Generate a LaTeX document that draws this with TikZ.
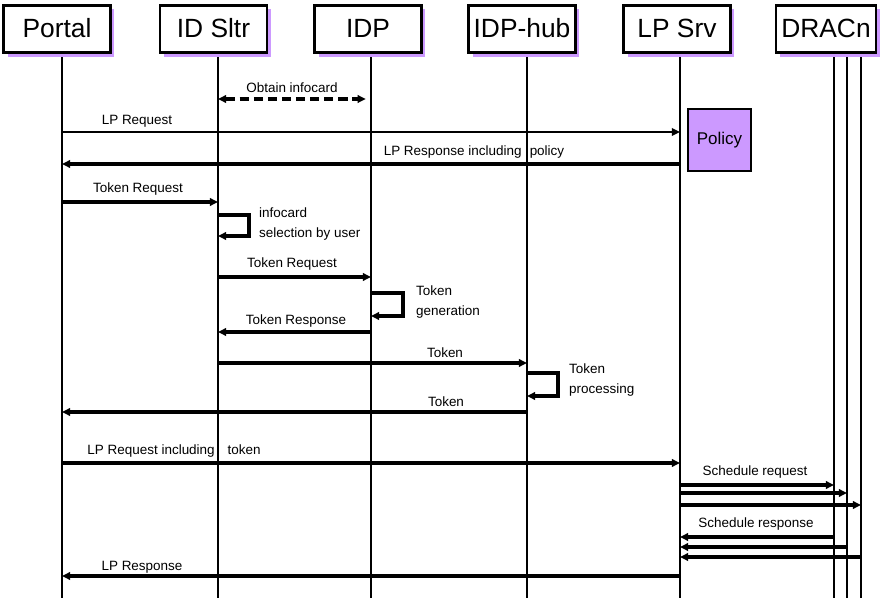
\documentclass[tikz,border=0pt]{standalone}
\usepackage{fontspec}
\setmainfont{Liberation Sans}
\usetikzlibrary{arrows.meta, shadows}
\definecolor{lilac}{RGB}{204,153,255}
\tikzset{
  >={Triangle[length=7pt,width=6.5pt]},
  head/.style={draw, line width=2.2pt, fill=white, minimum width=3.2cm, minimum height=1.42cm,
    inner sep=0pt, text depth=1pt, font=\fontsize{22.5}{26}\selectfont,
    general shadow={fill=lilac, shadow xshift=3.5pt, shadow yshift=-3.5pt}},
  life/.style={line width=2.2pt},
  msg/.style={->, line width=2.6pt},
  thinmsg/.style={->, line width=1.6pt},
  lbl/.style={font=\fontsize{11.5}{13}\selectfont, inner sep=0pt},
  note/.style={lbl, font=\fontsize{11.5}{17}\selectfont, align=left, anchor=west},
}

\begin{document}
\begin{tikzpicture}[x=0.03cm, y=-0.03cm]
  \useasboundingbox (0,0) rectangle (886,600);

  % Lifelines
  \foreach \name/\x in {portal/62, sltr/218, idp/371, hub/527, lpsrv/680, dracA/834, dracB/847, dracC/861} {
    \coordinate (l\name) at (\x,53);
    \draw[life] (l\name) -- (\x,598);
  }

  % Headers
  \node[head] (portal) at (57,29) {Portal};
  \node[head] (sltr) at (213.5,29) {ID Sltr};
  \node[head] (idp) at (368,29) {IDP};
  \node[head] (hub) at (522,29) {IDP-hub};
  \node[head] (lpsrv) at (677,29) {LP Srv};
  \node[head, minimum width=3cm] (dracn) at (826,29) {DRACn};

  % Obtain infocard
  \draw[<->, line width=2.6pt, dash pattern=on 8pt off 4pt, shorten >=4.5pt] (lsltr |- 0,99) -- (lidp |- 0,99);
  \node[lbl] (obtain) at (292,88) {Obtain infocard};

  % LP request and policy
  \draw[thinmsg] (lportal |- 0,132) -- (llpsrv |- 0,132);
  \node[lbl] (lpreq) at (137,121) {LP Request};
  \node[draw, line width=0.9pt, fill=lilac, minimum width=1.89cm, minimum height=1.86cm,
    font=\fontsize{14.5}{16}\selectfont] (policy) at (719.5,140) {Policy};
  \draw[msg] (llpsrv |- 0,164) -- (lportal |- 0,164);
  \node[lbl] (lpresp) at (474,152) {LP Response including\hspace{7pt}policy};

  % Token request to selector
  \draw[msg] (lportal |- 0,202) -- (lsltr |- 0,202);
  \node[lbl] (tokreqA) at (138,189) {Token Request};
  \draw[msg] (lsltr |- 0,215) -- ++(31,0) -- ++(0,21) -- ++(-31,0);
  \node[note] (select) at (259,224) {infocard\\selection by user};

  % Token generation
  \draw[msg] (lsltr |- 0,277) -- (lidp |- 0,277);
  \node[lbl] (tokreqB) at (292,264) {Token Request};
  \draw[msg] (lidp |- 0,293) -- ++(32,0) -- ++(0,23) -- ++(-32,0);
  \node[note] (gen) at (416,302) {Token\\generation};
  \draw[msg] (lidp |- 0,332) -- (lsltr |- 0,332);
  \node[lbl] (tokresp) at (296,321) {Token Response};

  % Token processing
  \draw[msg] (lsltr |- 0,363) -- (lhub |- 0,363);
  \node[lbl] (tokA) at (445,353) {Token};
  \draw[msg] (lhub |- 0,373) -- ++(31,0) -- ++(0,23) -- ++(-31,0);
  \node[note] (proc) at (569,380) {Token\\processing};
  \draw[msg] (lhub |- 0,412) -- (lportal |- 0,412);
  \node[lbl] (tokB) at (446,402) {Token};

  % LP request with token
  \draw[msg] (lportal |- 0,463) -- (llpsrv |- 0,463);
  \node[lbl] (lpreqtok) at (174,451) {LP Request including\hspace{11pt}token};

  % Scheduling
  \node[lbl] (schreq) at (755,472) {Schedule request};
  \foreach \d/\y in {dracA/485, dracB/493, dracC/505}
    \draw[msg] (llpsrv |- 0,\y) -- (l\d |- 0,\y);
  \node[lbl] (schresp) at (756,524) {Schedule response};
  \foreach \d/\y in {dracA/537, dracB/547, dracC/557}
    \draw[msg] (l\d |- 0,\y) -- (llpsrv |- 0,\y);

  % LP response
  \draw[msg] (llpsrv |- 0,576) -- (lportal |- 0,576);
  \node[lbl] (lprespB) at (142,567) {LP Response};
\end{tikzpicture}
\end{document}
